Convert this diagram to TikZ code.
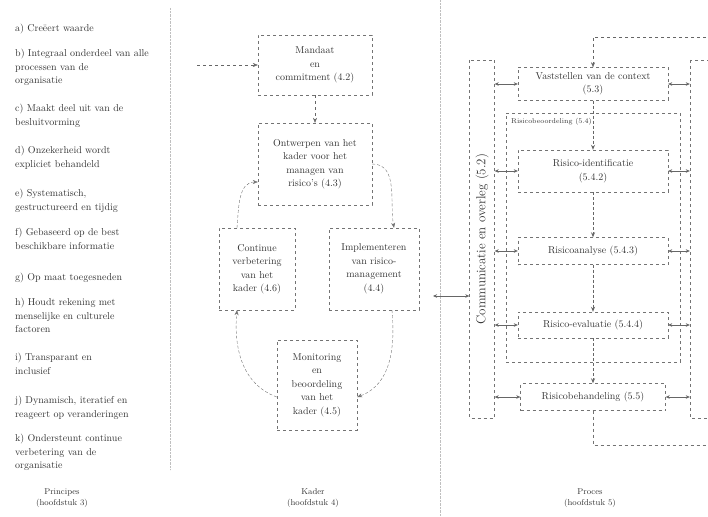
\documentclass[tikz,border=0pt]{standalone}
\usetikzlibrary{arrows.meta, positioning}
\begin{document}
\begin{tikzpicture}[x=1pt, y=-1pt,
        bx/.style={draw=black!55, dashed, align=center, inner sep=0pt,
                   text=black!80, font=\fontsize{10}{13.5}\selectfont},
        lst/.style={anchor=north west, align=left, inner sep=0pt,
                    text=black!80, font=\fontsize{10}{13.5}\selectfont},
        lab/.style={align=center, inner sep=0pt, text=black!80,
                    font=\fontsize{8.5}{10.5}\selectfont},
        arr/.style={draw=black!60, dashed, -{Stealth[length=5pt, width=4pt]}},
        cyc/.style={draw=black!55, densely dashed, -{Stealth[length=5pt, width=4pt]}},
        dbl/.style={draw=black!60, {Stealth[length=4pt, width=3.5pt]}-{Stealth[length=4pt, width=3.5pt]}},
        sep/.style={draw=black!25, densely dotted}]
      \useasboundingbox (0,0) rectangle (708,516);
      % column borders
      \draw[sep] (170,8) -- (170,470);
      \draw[sep] (440,0) -- (440,516);
      % principes
      \node[lst] (pa) at (15,24) {a) Creëert waarde};
      \node[lst] (pb) at (15,49) {b) Integraal onderdeel van alle\\processen van de\\organisatie};
      \node[lst] (pc) at (15,104) {c) Maakt deel uit van de\\besluitvorming};
      \node[lst] (pd) at (15,146) {d) Onzekerheid wordt\\expliciet behandeld};
      \node[lst] (pe) at (15,189) {e) Systematisch,\\gestructureerd en tijdig};
      \node[lst] (pf) at (15,228) {f) Gebaseerd op de best\\beschikbare informatie};
      \node[lst] (pg) at (15,273) {g) Op maat toegesneden};
      \node[lst] (ph) at (15,298) {h) Houdt rekening met\\menselijke en culturele\\factoren};
      \node[lst] (pi) at (15,353) {i) Transparant en\\inclusief};
      \node[lst] (pj) at (15,396) {j) Dynamisch, iteratief en\\reageert op veranderingen};
      \node[lst] (pk) at (15,434) {k) Ondersteunt continue\\verbetering van de\\organisatie};
      \node[lab] (lprinc) at (62,498) {Principes\\(hoofdstuk 3)};
      % kader
      \node[bx, minimum width=114, minimum height=60] (mandaat) at (315,65)
           {Mandaat\\en\\commitment (4.2)};
      \node[bx, minimum width=114, minimum height=82] (ontwerp) at (315,164)
           {Ontwerpen van het\\kader voor het\\managen van\\risico's (4.3)};
      \node[bx, minimum width=76, minimum height=82] (verbeter) at (257,269)
           {Continue\\verbetering\\van het\\kader (4.6)};
      \node[bx, minimum width=90, minimum height=82] (impl) at (374,269)
           {Implementeren\\van risico-\\management\\(4.4)};
      \node[bx, minimum width=80, minimum height=90] (monitor) at (317,385)
           {Monitoring\\en\\beoordeling\\van het\\kader (4.5)};
      \coordinate (pstart) at (197,65);
      \draw[arr] (pstart) -- (mandaat.west);
      \draw[arr] (mandaat) -- (ontwerp);
      \draw[cyc] (ontwerp.east) to[out=0, in=100] ([xshift=20pt]impl.north);
      \draw[cyc] ([xshift=18pt]impl.south) to[out=-85, in=20] ([yshift=-12pt]monitor.east);
      \draw[cyc] ([yshift=-12pt]monitor.west) to[out=160, in=-95] ([xshift=-20pt]verbeter.south);
      \draw[cyc] ([xshift=-20pt]verbeter.north) to[out=85, in=180] ([yshift=-18pt]ontwerp.west);
      \node[lab] (lkader) at (313,498) {Kader\\(hoofdstuk 4)};
      % proces
      \node[bx, rotate=90, minimum width=358, minimum height=25,
            font=\fontsize{13}{15}\selectfont] (comm) at (482,239)
           {Communicatie en overleg (5.2)};
      \node[bx, rotate=90, minimum width=358, minimum height=30] (monit) at (705,239) {};
      \node[bx, minimum width=150, minimum height=33] (ctx) at (593,84)
           {Vaststellen van de context\\(5.3)};
      \node[bx, minimum width=174, minimum height=249] (beoord) at (593,237.5) {};
      \node[lab, anchor=north west, font=\scriptsize] (lbeoord) at (511,118)
           {Risicobeoordeling (5.4)};
      \node[bx, minimum width=150, minimum height=42] (ident) at (593,171)
           {Risico-identificatie\\(5.4.2)};
      \node[bx, minimum width=150, minimum height=27] (anal) at (593,251)
           {Risicoanalyse (5.4.3)};
      \node[bx, minimum width=150, minimum height=26] (eval) at (593,325)
           {Risico-evaluatie (5.4.4)};
      \node[bx, minimum width=145, minimum height=27] (behand) at (593,397)
           {Risicobehandeling (5.5)};
      \draw[arr, densely dashed, thick] (ctx) -- (ident);
      \draw[arr, densely dashed, thick] (ident) -- (anal);
      \draw[arr, densely dashed, thick] (anal) -- (eval);
      \draw[arr, densely dashed, thick] (eval) -- (behand);
      \foreach \s in {ctx, ident, anal, eval, behand} {
        \draw[dbl] (comm.south |- \s.west) -- (\s.west);
        \draw[dbl] (\s.east) -- (monit.north |- \s.east);
      }
      % terugkoppeling
      \coordinate (lb) at (593,445);
      \coordinate (lbr) at (712,445);
      \coordinate (ltr) at (712,37);
      \coordinate (lt) at (593,37);
      \draw[sep, dashed, draw=black!55] (behand) -- (lb) -- (lbr);
      \draw[arr] (ltr) -- (lt) -- (ctx);
      \coordinate (kr) at (433,296);
      \draw[dbl] (kr) -- (kr -| comm.north);
      \node[lab] (lproces) at (590,498) {Proces\\(hoofdstuk 5)};
    \end{tikzpicture}
\end{document}
